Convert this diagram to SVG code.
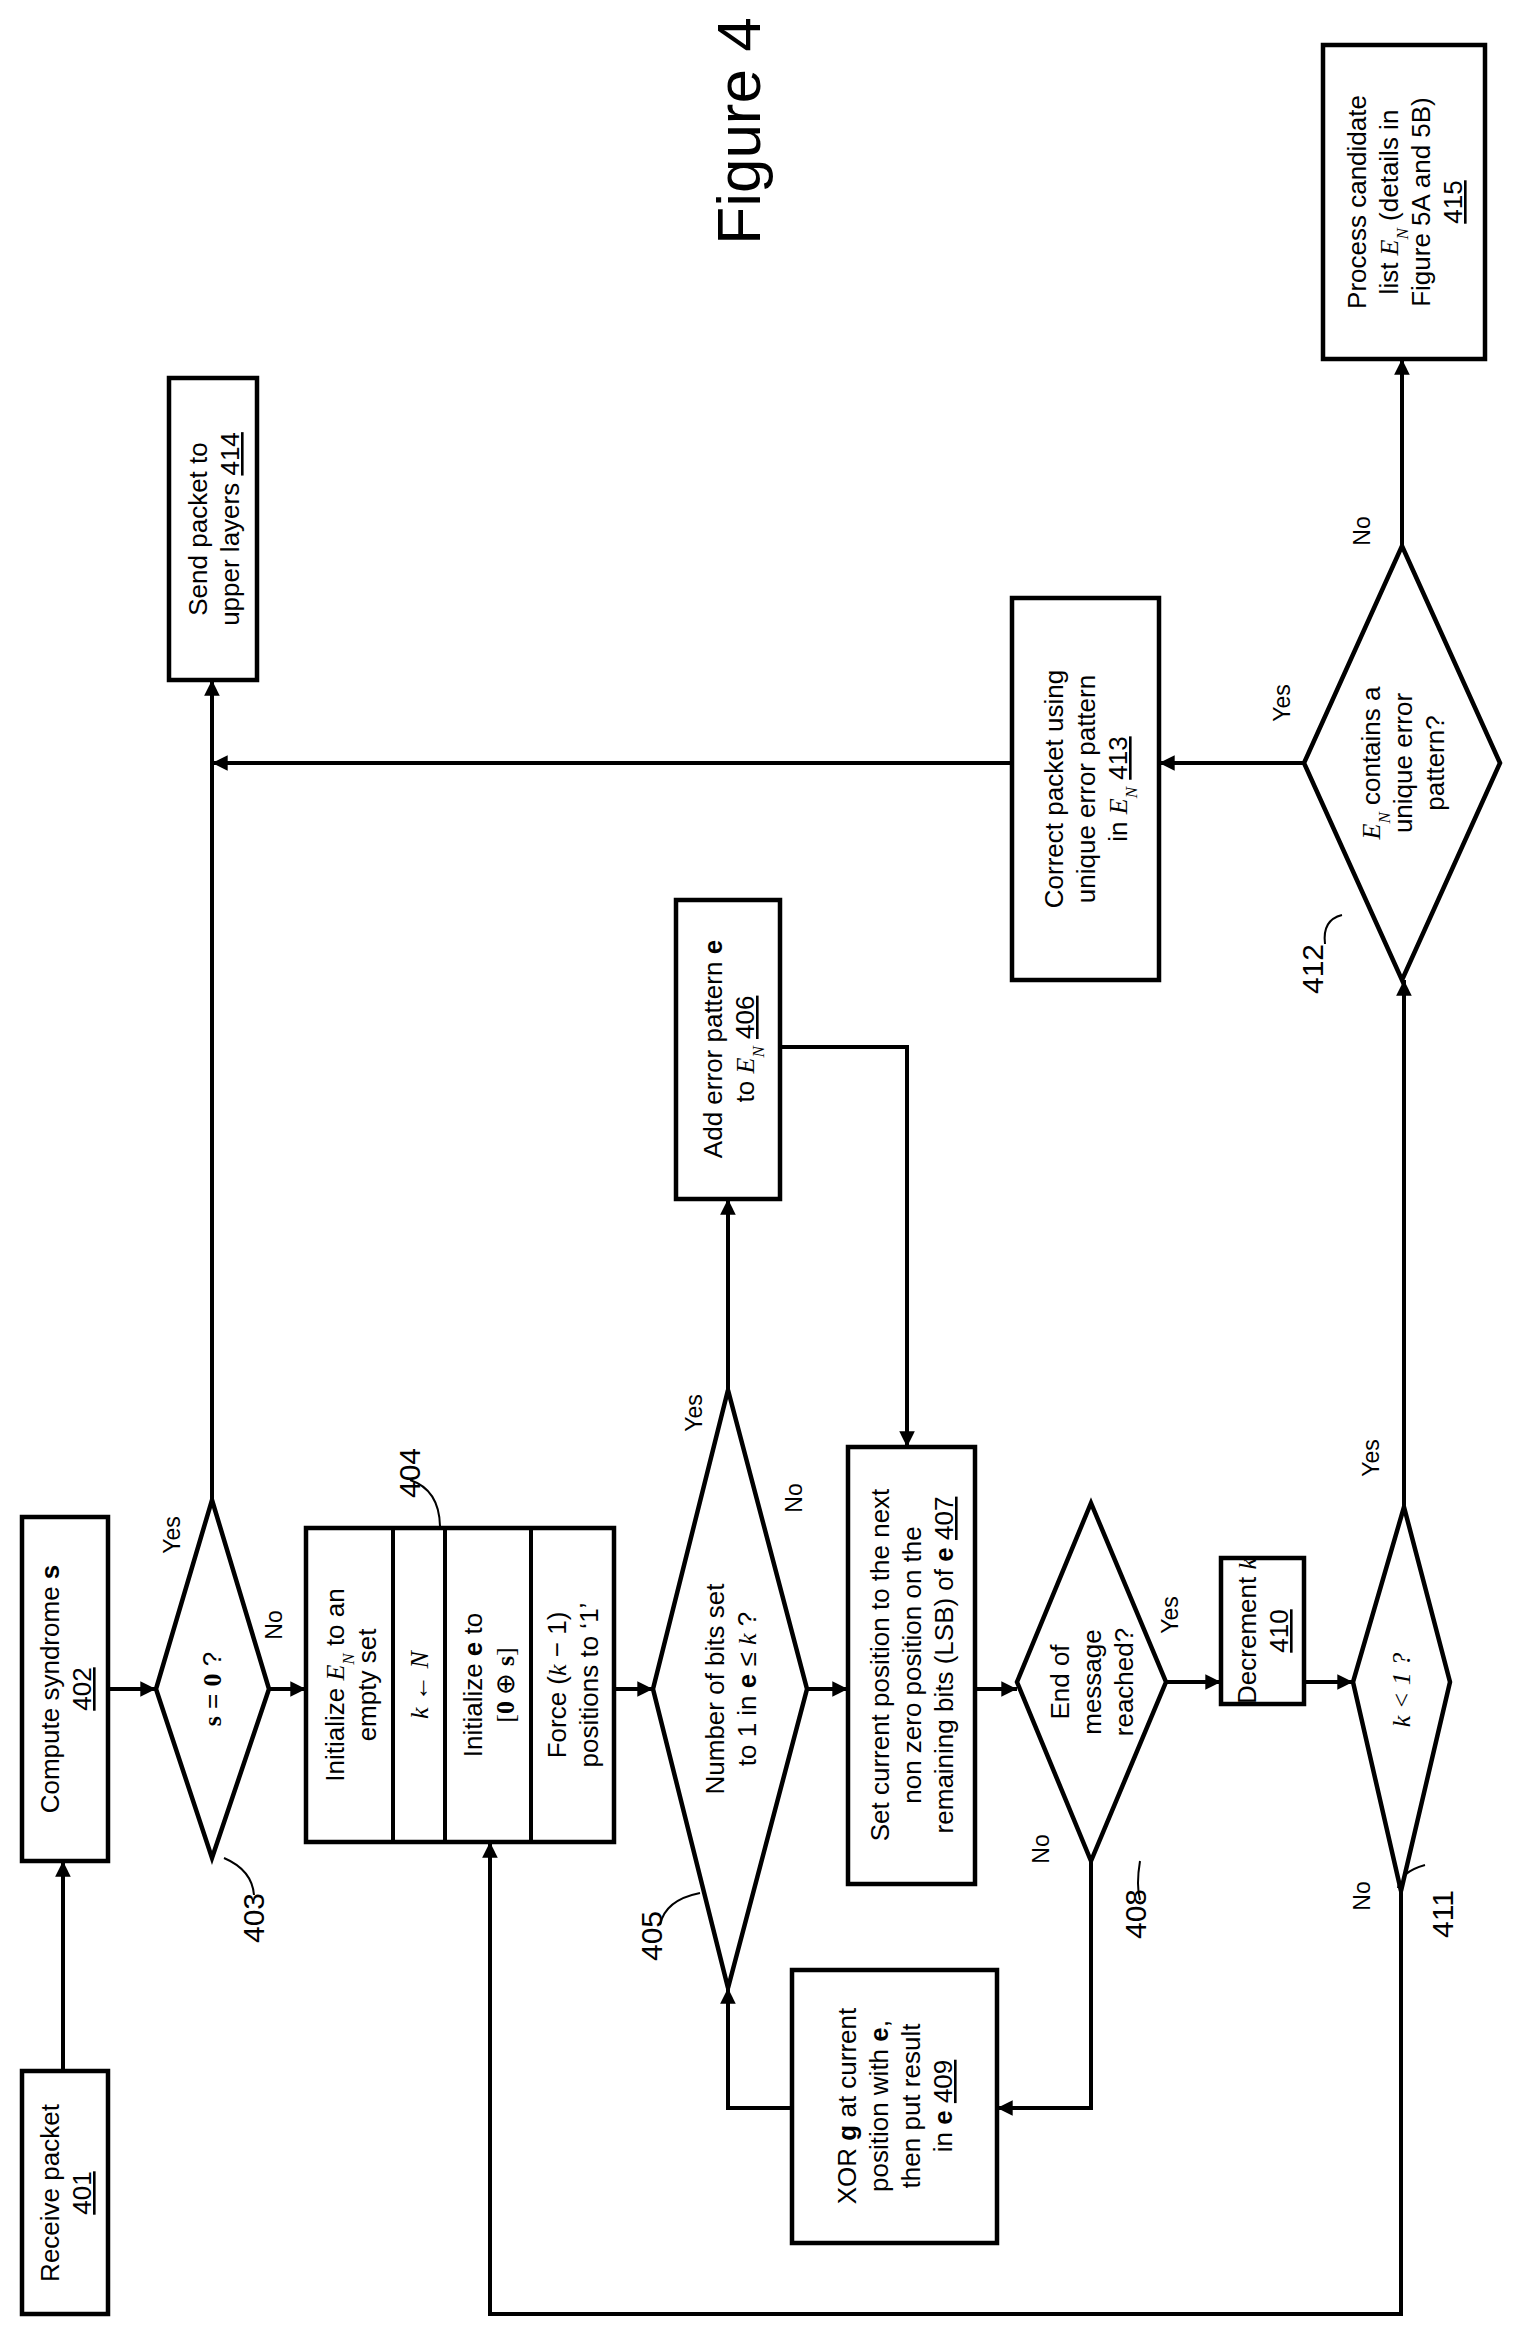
<svg xmlns="http://www.w3.org/2000/svg" width="1528" height="2346" viewBox="0 0 1528 2346">
<style>
.b{fill:#fff;stroke:#000;stroke-width:4.5}
.l{fill:none;stroke:#000;stroke-width:4}
.t{font-family:"Liberation Sans",Arial,sans-serif;font-size:26px;text-anchor:middle}
.s{font-size:23px}
.n{font-family:"Liberation Sans",Arial,sans-serif;font-size:30px;text-anchor:middle}
.m{font-family:"Liberation Serif",serif;font-style:italic}
.bd{font-weight:bold}
.u{text-decoration:underline}
.sb{font-size:17px;baseline-shift:sub}
</style>
<defs>
<marker id="a" viewBox="0 0 10 10" refX="10" refY="5" markerWidth="6" markerHeight="6" markerUnits="userSpaceOnUse" orient="auto" style="overflow:visible">
<path d="M0,0 L10,5 L0,10 z" transform="scale(2.6) translate(-6.2,-3.1)"/>
</marker>
</defs>
<text class="n" style="font-size:62px" x="740" y="131" transform="rotate(-90 740 131)" dy="20">Figure 4</text>

<g id="connectors" stroke="#000" stroke-width="4" fill="none">
<path d="M63,2071 V1900"/><path d="M63,1900 V1861" marker-end="url(#a)"/>
<path d="M108,1689 H156" marker-end="url(#a)"/>
<path d="M212,1500 V680" marker-end="url(#a)"/>
<path d="M269,1689 H306" marker-end="url(#a)"/>
<path d="M614,1689 H653" marker-end="url(#a)"/>
<path d="M728,1390 V1199" marker-end="url(#a)"/>
<path d="M807,1689 H848" marker-end="url(#a)"/>
<path d="M780,1047 H907 V1447" marker-end="url(#a)"/>
<path d="M975,1689 H1017" marker-end="url(#a)"/>
<path d="M1166,1682 H1221" marker-end="url(#a)"/>
<path d="M1304,1682 H1353" marker-end="url(#a)"/>
<path d="M1091,1861 V2108 H997" marker-end="url(#a)"/>
<path d="M792,2108 H728 V1988" marker-end="url(#a)"/>
<path d="M1401,1891 V2314 H490 V1842" marker-end="url(#a)"/>
<path d="M1404,1507 V980" marker-end="url(#a)"/>
<path d="M1304,763 H1159" marker-end="url(#a)"/>
<path d="M1012,763 H212" marker-end="url(#a)"/>
<path d="M1402,546 V359" marker-end="url(#a)"/>
<path stroke-width="2" d="M224,1858 Q252,1870 254,1895"/>
<path stroke-width="2" d="M440,1528 Q440,1490 410,1480"/>
<path stroke-width="2" d="M700,1893 Q665,1900 660,1925"/>
<path stroke-width="2" d="M1140,1861 Q1136,1885 1140,1900"/>
<path stroke-width="2" d="M1425,1865 Q1400,1872 1398,1888"/>
<path stroke-width="2" d="M1325,944 Q1322,920 1342,915"/>
</g>

<g id="n401"><rect class="b" x="22" y="2071" width="86" height="243"/>
<text class="t" transform="rotate(-90 65 2193)" x="65" y="2193"><tspan x="65" dy="-6">Receive packet</tspan><tspan x="65" dy="32" class="u">401</tspan></text></g>

<g id="n402"><rect class="b" x="22" y="1517" width="86" height="344"/>
<text class="t" transform="rotate(-90 65 1689)" x="65" y="1689"><tspan x="65" dy="-6">Compute syndrome <tspan class="bd">s</tspan></tspan><tspan x="65" dy="32" class="u">402</tspan></text></g>

<g id="n403"><path class="b" d="M212,1500 L269,1689 L212,1858 L156,1689 z"/>
<text class="t" transform="rotate(-90 212 1689)" x="212" y="1698"><tspan class="bd" font-family="Liberation Serif">s</tspan> = <tspan class="bd" font-family="Liberation Serif">0</tspan> ?</text>
<text class="t s" transform="rotate(-90 180 1535)" x="180" y="1535">Yes</text>
<text class="t s" transform="rotate(-90 282 1625)" x="282" y="1625">No</text>
<text class="n" transform="rotate(-90 264 1918)" x="264" y="1918">403</text></g>

<g id="n404"><rect class="b" x="306" y="1528" width="308" height="314"/>
<path class="l" d="M393,1528 V1842 M445,1528 V1842 M531,1528 V1842"/>
<text class="t" transform="rotate(-90 350 1685)" x="350" y="1685"><tspan x="350" dy="-6">Initialize <tspan class="m">E<tspan class="sb">N</tspan></tspan> to an</tspan><tspan x="350" dy="32">empty set</tspan></text>
<text class="t m" transform="rotate(-90 419 1685)" x="419" y="1694">k ← N</text>
<text class="t" transform="rotate(-90 488 1685)" x="488" y="1685"><tspan x="488" dy="-6">Initialize <tspan class="bd">e</tspan> to</tspan><tspan x="488" dy="32" font-family="Liberation Serif">[<tspan class="bd">0</tspan> ⊕ <tspan class="bd">s</tspan>]</tspan></text>
<text class="t" transform="rotate(-90 572 1685)" x="572" y="1685"><tspan x="572" dy="-6">Force (<tspan class="m">k</tspan> − 1)</tspan><tspan x="572" dy="32">positions to ‘1’</tspan></text>
<text class="n" transform="rotate(-90 420 1473)" x="420" y="1473">404</text></g>

<g id="n405"><path class="b" d="M728,1390 L807,1689 L728,1988 L653,1689 z"/>
<text class="t" transform="rotate(-90 730 1689)" x="730" y="1689"><tspan x="730" dy="-6">Number of bits set</tspan><tspan x="730" dy="32">to 1 in <tspan class="bd">e</tspan> ≤ <tspan class="m">k</tspan> ?</tspan></text>
<text class="t s" transform="rotate(-90 702 1413)" x="702" y="1413">Yes</text>
<text class="t s" transform="rotate(-90 802 1498)" x="802" y="1498">No</text>
<text class="n" transform="rotate(-90 662 1936)" x="662" y="1936">405</text></g>

<g id="n406"><rect class="b" x="676" y="900" width="104" height="299"/>
<text class="t" transform="rotate(-90 728 1049)" x="728" y="1049"><tspan x="728" dy="-6">Add error pattern <tspan class="bd">e</tspan></tspan><tspan x="728" dy="32">to <tspan class="m">E<tspan class="sb">N</tspan></tspan> <tspan class="u">406</tspan></tspan></text></g>

<g id="n407"><rect class="b" x="848" y="1447" width="127" height="437"/>
<text class="t" transform="rotate(-90 911 1665)" x="911" y="1665"><tspan x="911" dy="-22">Set current position to the next</tspan><tspan x="911" dy="32">non zero position on the</tspan><tspan x="911" dy="32">remaining bits (LSB) of <tspan class="bd">e</tspan> <tspan class="u">407</tspan></tspan></text></g>

<g id="n408"><path class="b" d="M1091,1503 L1166,1682 L1091,1861 L1017,1682 z"/>
<text class="t" transform="rotate(-90 1091 1682)" x="1091" y="1682"><tspan x="1091" dy="-22">End of</tspan><tspan x="1091" dy="32">message</tspan><tspan x="1091" dy="32">reached?</tspan></text>
<text class="t s" transform="rotate(-90 1178 1615)" x="1178" y="1615">Yes</text>
<text class="t s" transform="rotate(-90 1049 1849)" x="1049" y="1849">No</text>
<text class="n" transform="rotate(-90 1146 1914)" x="1146" y="1914">408</text></g>

<g id="n409"><rect class="b" x="792" y="1970" width="205" height="273"/>
<text class="t" transform="rotate(-90 894 2106)" x="894" y="2106"><tspan x="894" dy="-38">XOR <tspan class="bd">g</tspan> at current</tspan><tspan x="894" dy="32">position with <tspan class="bd">e</tspan>,</tspan><tspan x="894" dy="32">then put result</tspan><tspan x="894" dy="32">in <tspan class="bd">e</tspan> <tspan class="u">409</tspan></tspan></text></g>

<g id="n410"><rect class="b" x="1221" y="1558" width="83" height="146"/>
<text class="t" transform="rotate(-90 1262 1631)" x="1262" y="1631"><tspan x="1262" dy="-6">Decrement <tspan class="m">k</tspan></tspan><tspan x="1262" dy="32" class="u">410</tspan></text></g>

<g id="n411"><path class="b" d="M1404,1507 L1450,1682 L1401,1891 L1353,1682 z"/>
<text class="t m" transform="rotate(-90 1401 1690)" x="1401" y="1699">k &lt; 1 ?</text>
<text class="t s" transform="rotate(-90 1379 1458)" x="1379" y="1458">Yes</text>
<text class="t s" transform="rotate(-90 1370 1896)" x="1370" y="1896">No</text>
<text class="n" transform="rotate(-90 1453 1914)" x="1453" y="1914">411</text></g>

<g id="n412"><path class="b" d="M1402,546 L1500,763 L1402,980 L1304,763 z"/>
<text class="t" transform="rotate(-90 1402 763)" x="1402" y="763"><tspan x="1402" dy="-22"><tspan class="m">E<tspan class="sb">N</tspan></tspan> contains a</tspan><tspan x="1402" dy="32">unique error</tspan><tspan x="1402" dy="32">pattern?</tspan></text>
<text class="t s" transform="rotate(-90 1290 703)" x="1290" y="703">Yes</text>
<text class="t s" transform="rotate(-90 1370 531)" x="1370" y="531">No</text>
<text class="n" transform="rotate(-90 1323 969)" x="1323" y="969">412</text></g>

<g id="n413"><rect class="b" x="1012" y="598" width="147" height="382"/>
<text class="t" transform="rotate(-90 1085 789)" x="1085" y="789"><tspan x="1085" dy="-22">Correct packet using</tspan><tspan x="1085" dy="32">unique error pattern</tspan><tspan x="1085" dy="32">in <tspan class="m">E<tspan class="sb">N</tspan></tspan> <tspan class="u">413</tspan></tspan></text></g>

<g id="n414"><rect class="b" x="169" y="378" width="88" height="302"/>
<text class="t" transform="rotate(-90 213 529)" x="213" y="529"><tspan x="213" dy="-6">Send packet to</tspan><tspan x="213" dy="32">upper layers <tspan class="u">414</tspan></tspan></text></g>

<g id="n415"><rect class="b" x="1323" y="45" width="162" height="314"/>
<text class="t" transform="rotate(-90 1404 202)" x="1404" y="202"><tspan x="1404" dy="-38">Process candidate</tspan><tspan x="1404" dy="32">list <tspan class="m">E<tspan class="sb">N</tspan></tspan> (details in</tspan><tspan x="1404" dy="32">Figure 5A and 5B)</tspan><tspan x="1404" dy="32" class="u">415</tspan></text></g>
</svg>
